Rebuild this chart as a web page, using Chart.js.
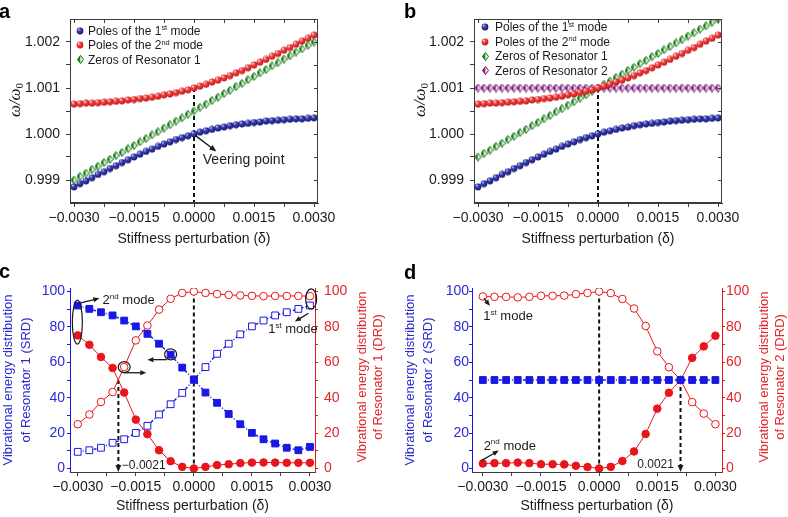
<!DOCTYPE html>
<html>
<head>
<meta charset="utf-8">
<script src="https://cdn.jsdelivr.net/npm/chart.js@4.4.1/dist/chart.umd.min.js"></script>
<style>
  body { margin: 0; background: #fff; }
  #page { position: relative; width: 788px; height: 517px; overflow: hidden; }
  canvas { position: absolute; }
  .tag { position: absolute; font: bold 20px "Liberation Sans", Arial, sans-serif; line-height: 20px; color: #000; }
</style>
</head>
<body>
<div id="page">
  <canvas id="chartA" width="394" height="258" style="left:0;top:0"></canvas>
  <canvas id="chartB" width="394" height="258" style="left:394px;top:0"></canvas>
  <canvas id="chartC" width="394" height="259" style="left:0;top:258px"></canvas>
  <canvas id="chartD" width="394" height="259" style="left:394px;top:258px"></canvas>
  <div class="tag" style="left:-1px;top:1px">a</div>
  <div class="tag" style="left:404px;top:1px">b</div>
  <div class="tag" style="left:-1px;top:261px">c</div>
  <div class="tag" style="left:404px;top:262px">d</div>
</div>
<script>
const FONT = '"Liberation Sans", Arial, sans-serif';
const INK = '#1b1b1b';
const FRAME = '#3c3c3c';
const BLUE = '#1818e4';
const BLUE_TXT = '#2b2bd4';
const RED = '#e8161c';
const RED_TXT = '#e2262b';

// ---------- data: panels a, b (frequency loci) ----------
const deltaFine = [-0.003, -0.00285, -0.0027, -0.00255, -0.0024, -0.00225, -0.0021, -0.00195, -0.0018, -0.00165,
  -0.0015, -0.00135, -0.0012, -0.00105, -0.0009, -0.00075, -0.0006, -0.00045, -0.0003, -0.00015, 0,
  0.00015, 0.0003, 0.00045, 0.0006, 0.00075, 0.0009, 0.00105, 0.0012, 0.00135, 0.0015,
  0.00165, 0.0018, 0.00195, 0.0021, 0.00225, 0.0024, 0.00255, 0.0027, 0.00285, 0.003];
const poles1st = [0.99885, 0.99892, 0.99898, 0.99905, 0.99912, 0.99918, 0.99925, 0.99931, 0.99938, 0.99944,
  0.99950, 0.99956, 0.99962, 0.99967, 0.99973, 0.99978, 0.99983, 0.99988, 0.99992, 0.99996, 1.00000,
  1.00004, 1.00007, 1.00010, 1.00013, 1.00015, 1.00018, 1.00020, 1.00022, 1.00023, 1.00025,
  1.00026, 1.00028, 1.00029, 1.00030, 1.00031, 1.00032, 1.00033, 1.00033, 1.00034, 1.00035];
const poles2nd = [1.00065, 1.00066, 1.00067, 1.00067, 1.00068, 1.00069, 1.00070, 1.00071, 1.00072, 1.00074,
  1.00075, 1.00077, 1.00078, 1.00080, 1.00082, 1.00085, 1.00087, 1.00090, 1.00093, 1.00096, 1.00100,
  1.00104, 1.00108, 1.00113, 1.00117, 1.00122, 1.00127, 1.00133, 1.00138, 1.00144, 1.00150,
  1.00156, 1.00162, 1.00169, 1.00175, 1.00182, 1.00188, 1.00195, 1.00202, 1.00208, 1.00215];
const zerosRes1A = [0.99900, 0.99908, 0.99915, 0.99923, 0.99930, 0.99938, 0.99945, 0.99953, 0.99960, 0.99968,
  0.99975, 0.99983, 0.99990, 0.99998, 1.00005, 1.00013, 1.00020, 1.00028, 1.00035, 1.00043, 1.00050,
  1.00058, 1.00065, 1.00073, 1.00080, 1.00088, 1.00095, 1.00103, 1.00110, 1.00118, 1.00125,
  1.00133, 1.00140, 1.00148, 1.00155, 1.00163, 1.00170, 1.00178, 1.00185, 1.00193, 1.00200];
const zerosRes1B = [0.99950, 0.99958, 0.99965, 0.99973, 0.99980, 0.99988, 0.99995, 1.00003, 1.00010, 1.00018,
  1.00025, 1.00033, 1.00040, 1.00048, 1.00055, 1.00063, 1.00070, 1.00078, 1.00085, 1.00093, 1.00100,
  1.00108, 1.00115, 1.00123, 1.00130, 1.00138, 1.00145, 1.00153, 1.00160, 1.00168, 1.00175,
  1.00183, 1.00190, 1.00198, 1.00205, 1.00213, 1.00220, 1.00228, 1.00235, 1.00243, 1.00250];
const zerosRes2B = [1.001, 1.001, 1.001, 1.001, 1.001, 1.001, 1.001, 1.001, 1.001, 1.001,
  1.001, 1.001, 1.001, 1.001, 1.001, 1.001, 1.001, 1.001, 1.001, 1.001, 1.001,
  1.001, 1.001, 1.001, 1.001, 1.001, 1.001, 1.001, 1.001, 1.001, 1.001,
  1.001, 1.001, 1.001, 1.001, 1.001, 1.001, 1.001, 1.001, 1.001, 1.001];

// ---------- data: panels c, d (energy distribution, %) ----------
const deltaCoarse = [-0.003, -0.0027, -0.0024, -0.0021, -0.0018, -0.0015, -0.0012, -0.0009, -0.0006, -0.0003, 0,
  0.0003, 0.0006, 0.0009, 0.0012, 0.0015, 0.0018, 0.0021, 0.0024, 0.0027, 0.003];
const srdRes1Mode2 = [92.1, 90.2, 88.3, 86.5, 83.6, 80.3, 76.1, 70.5, 64.3, 57.0, 50.2, 42.9, 37.1, 30.8, 25.0, 20.1, 16.5, 14.1, 11.7, 10.3, 12.2];
const srdRes1Mode1 = [9.4, 10.3, 11.7, 14.5, 16.5, 20.1, 24.1, 30.5, 36.3, 42.7, 50.2, 57.3, 64.8, 70.5, 75.8, 80.3, 83.6, 86.5, 88.3, 90.2, 92.1];
const drdRes1Mode2 = [75.2, 69.9, 63.0, 56.8, 42.9, 27.6, 19.4, 10.3, 4.1, 0.9, 0, 0.9, 1.9, 2.4, 3.0, 3.3, 3.4, 3.3, 3.2, 3.2, 3.2];
const drdRes1Mode1 = [25.0, 30.5, 37.6, 43.2, 57.3, 72.4, 80.8, 89.8, 95.9, 99.2, 100, 99.2, 98.6, 98.1, 97.8, 97.6, 97.4, 97.5, 97.5, 97.5, 97.4];
const srdRes2 = [50, 50, 50, 50, 50, 50, 50, 50, 50, 50, 50, 50, 50, 50, 50, 50, 50, 50, 50, 50, 50];
const drdRes2Mode1 = [97.2, 97.0, 97.0, 96.7, 97.0, 97.6, 97.6, 97.7, 98.5, 99.2, 100, 99.1, 95.8, 90.4, 80.5, 66.2, 57.2, 50.0, 37.5, 31.0, 25.0];
const drdRes2Mode2 = [2.8, 3.0, 3.0, 3.3, 3.0, 2.4, 2.4, 2.3, 1.5, 0.8, 0, 0.9, 4.2, 9.6, 19.5, 33.8, 42.8, 50.0, 62.5, 69.0, 75.0];

// ---------- tick values ----------
const deltaMajor = [-0.003, -0.0015, 0, 0.0015, 0.003];
const deltaMinor = [-0.00225, -0.00075, 0.00075, 0.00225];
const freqMajor = [0.999, 1.000, 1.001, 1.002];
const freqMinor = [0.9995, 1.0005, 1.0015];
const shareMajor = [0, 20, 40, 60, 80, 100];
const shareMinor = [10, 30, 50, 70, 90];

Chart.defaults.font.family = FONT;
Chart.defaults.color = INK;

const pairs = (xs, ys) => xs.map((x, i) => ({ x, y: ys[i] }));
const tickList = (major, minor) => major.concat(minor).sort((p, q) => p - q).map(v => ({ value: v }));
const fmtDelta = v => (v < 0 ? '\u2212' : '') + Math.abs(v).toFixed(4);

// ---------- marker images ----------
function sphere(r, light, mid, dark) {
  const c = document.createElement('canvas');
  c.width = c.height = Math.ceil(2 * r);
  const g = c.getContext('2d');
  const grad = g.createRadialGradient(r * 0.72, r * 0.62, 0.2, r, r, r);
  grad.addColorStop(0, light);
  grad.addColorStop(0.45, mid);
  grad.addColorStop(1, dark);
  g.fillStyle = grad;
  g.beginPath(); g.arc(c.width / 2, c.height / 2, r - 0.2, 0, Math.PI * 2); g.fill();
  return c;
}
function halfDiamond(w, h, dark, light, edge) {
  const c = document.createElement('canvas');
  c.width = w; c.height = h;
  const g = c.getContext('2d');
  g.fillStyle = dark;
  g.beginPath(); g.moveTo(w / 2, 0.5); g.lineTo(0.5, h / 2); g.lineTo(w / 2, h - 0.5); g.closePath(); g.fill();
  g.fillStyle = light;
  g.beginPath(); g.moveTo(w / 2, 0.5); g.lineTo(w - 0.5, h / 2); g.lineTo(w / 2, h - 0.5); g.closePath(); g.fill();
  g.strokeStyle = edge; g.lineWidth = 1;
  g.beginPath(); g.moveTo(w / 2, 0.5); g.lineTo(0.5, h / 2); g.lineTo(w / 2, h - 0.5); g.lineTo(w - 0.5, h / 2); g.closePath(); g.stroke();
  return c;
}
const blueBall = sphere(3.6, '#b4b8f4', '#3a3eb4', '#181a70');
const redBall = sphere(3.6, '#ffd6d0', '#f04444', '#c41a1a');
const greenDiamond = halfDiamond(7, 9, '#128412', '#e2f5dc', '#0f6a0f');
const purpleDiamond = halfDiamond(7, 9, '#861c86', '#f4dcf4', '#6c136c');

// ---------- drawing helpers ----------
function toPx(chart, x, y, yId) {
  return [chart.scales.x.getPixelForValue(x), chart.scales[yId || 'y'].getPixelForValue(y)];
}
function arrow(ctx, p, q, head) {
  head = head || 7;
  const a = Math.atan2(q[1] - p[1], q[0] - p[0]);
  const c = Math.cos(a), s = Math.sin(a);
  ctx.beginPath(); ctx.moveTo(p[0], p[1]); ctx.lineTo(q[0] - c * head * 0.7, q[1] - s * head * 0.7); ctx.stroke();
  ctx.beginPath();
  ctx.moveTo(q[0], q[1]);
  ctx.lineTo(q[0] - head * c + head * 0.42 * s, q[1] - head * s - head * 0.42 * c);
  ctx.lineTo(q[0] - head * c - head * 0.42 * s, q[1] - head * s + head * 0.42 * c);
  ctx.closePath(); ctx.fill();
}
function dashLine(ctx, p, q) {
  ctx.save();
  ctx.setLineDash([4, 3]); ctx.lineWidth = 2; ctx.strokeStyle = '#111';
  ctx.beginPath(); ctx.moveTo(p[0], p[1]); ctx.lineTo(q[0], q[1]); ctx.stroke();
  ctx.restore();
}
function ring(ctx, p, rx, ry) {
  ctx.beginPath(); ctx.ellipse(p[0], p[1], rx, ry, 0, 0, Math.PI * 2); ctx.stroke();
}
// parts: [text, 'sup' | undefined]; y is the vertical middle of the main text
function richText(ctx, parts, x, y, size) {
  let cx = x;
  ctx.textBaseline = 'alphabetic'; ctx.textAlign = 'left';
  parts.forEach(([t, kind]) => {
    const s = kind ? size * 0.62 : size;
    ctx.font = s + 'px ' + FONT;
    ctx.fillText(t, cx, y + size * 0.36 - (kind === 'sup' ? size * 0.4 : 0));
    cx += ctx.measureText(t).width;
  });
}
function drawLegend(ctx, items, mx, tx, y0, step) {
  ctx.fillStyle = INK;
  items.forEach((it, i) => {
    const y = y0 + i * step;
    ctx.drawImage(it.marker, Math.round(mx - it.marker.width / 2), Math.round(y - it.marker.height / 2));
    richText(ctx, it.label, tx, y, 12);
  });
}
function omegaTitle(ctx, cx, cy) {
  ctx.save();
  ctx.translate(cx, cy); ctx.rotate(-Math.PI / 2);
  ctx.fillStyle = INK; ctx.textBaseline = 'alphabetic';
  const big = 'italic 17px "Liberation Serif", serif', small = '11px "Liberation Serif", serif';
  ctx.font = big; const w1 = ctx.measureText('\u03c9/\u03c9').width;
  ctx.font = small; const w2 = ctx.measureText('0').width;
  const x = -(w1 + w2) / 2;
  ctx.font = big; ctx.fillText('\u03c9/\u03c9', x, 5);
  ctx.font = small; ctx.fillText('0', x + w1, 8);
  ctx.restore();
}
function sideTitle(ctx, lines, x0, step, cy, color) {
  ctx.save();
  ctx.translate(x0, cy); ctx.rotate(-Math.PI / 2);
  ctx.font = '13px ' + FONT; ctx.fillStyle = color;
  ctx.textAlign = 'center'; ctx.textBaseline = 'middle';
  lines.forEach((t, i) => ctx.fillText(t, 0, i * step));
  ctx.restore();
}

// frame with inward ticks on top and right (panels a, b)
const boxFrame = {
  id: 'boxFrame',
  afterDraw(chart) {
    const { ctx, chartArea: a, scales: { x, y } } = chart;
    ctx.save();
    ctx.strokeStyle = FRAME; ctx.lineWidth = 1;
    ctx.strokeRect(a.left + 0.5, a.top + 0.5, a.right - a.left - 1, a.bottom - a.top - 1);
    ctx.beginPath();
    x.ticks.forEach(t => {
      const p = Math.round(x.getPixelForValue(t.value)) + 0.5;
      ctx.moveTo(p, a.top); ctx.lineTo(p, a.top + 4);
    });
    y.ticks.forEach(t => {
      const p = Math.round(y.getPixelForValue(t.value)) + 0.5;
      ctx.moveTo(a.right, p); ctx.lineTo(a.right - 4, p);
    });
    ctx.stroke();
    ctx.restore();
  }
};
function panelDecor(spec) {
  return {
    id: 'decor',
    beforeDatasetsDraw(chart) {
      if (!spec.under) return;
      chart.ctx.save(); spec.under(chart, chart.ctx); chart.ctx.restore();
    },
    afterDraw(chart) {
      const ctx = chart.ctx;
      ctx.save();
      ctx.fillStyle = INK; ctx.strokeStyle = INK; ctx.lineWidth = 1.4;
      spec.over(chart, ctx);
      ctx.restore();
    }
  };
}

// ---------- axis builders ----------
function deltaAxis(min, max, height, titlePad) {
  return {
    type: 'linear', min, max,
    afterFit: s => { s.height = height; },
    afterBuildTicks: s => { s.ticks = tickList(deltaMajor, deltaMinor); },
    ticks: {
      callback: v => deltaMajor.includes(v) ? fmtDelta(v) : '',
      autoSkip: false, maxRotation: 0, font: { size: 14 }, color: INK, padding: 3
    },
    grid: { drawOnChartArea: false, tickLength: 4, tickColor: FRAME },
    border: { color: FRAME },
    title: { display: true, text: 'Stiffness perturbation (\u03b4)', font: { size: 14 }, color: INK, padding: { top: 0, bottom: titlePad } }
  };
}
function shareAxis(pos, width, color, textColor, pad, title, titlePad) {
  const axis = {
    type: 'linear', position: pos, min: -2, max: 102,
    afterFit: s => { s.width = width; },
    afterBuildTicks: s => { s.ticks = tickList(shareMajor, shareMinor); },
    ticks: { callback: v => shareMajor.includes(v) ? String(v) : '', autoSkip: false, font: { size: 14 }, color: textColor, padding: pad },
    grid: { drawOnChartArea: false, tickLength: 3, tickColor: color },
    border: { color }
  };
  if (title) {
    axis.title = { display: true, text: title, color: textColor, font: { size: 13, lineHeight: 1.35 }, padding: { top: titlePad, bottom: 0 } };
  }
  return axis;
}

// ---------- panels a, b ----------
function freqChart(id, datasets, areaLeft, padRight, decor) {
  return new Chart(document.getElementById(id), {
    type: 'scatter',
    data: { datasets },
    options: {
      responsive: false, animation: false, events: [],
      layout: { padding: { top: 19, right: padRight, left: 0, bottom: 0 } },
      plugins: { legend: { display: false }, tooltip: { enabled: false } },
      scales: {
        x: deltaAxis(-0.0031, 0.0031, 55, 10),
        y: {
          type: 'linear', min: 0.9985, max: 1.0025,
          afterFit: s => { s.width = areaLeft; },
          afterBuildTicks: s => { s.ticks = tickList(freqMajor, freqMinor); },
          ticks: { callback: v => freqMajor.includes(v) ? v.toFixed(3) : '', autoSkip: false, font: { size: 14 }, color: INK, padding: 6 },
          grid: { drawOnChartArea: false, tickLength: 4, tickColor: FRAME },
          border: { color: FRAME }
        }
      }
    },
    plugins: [boxFrame, panelDecor(decor)]
  });
}
const polesSets = [
  { label: 'Poles of the 1st mode', data: pairs(deltaFine, poles1st), pointStyle: blueBall },
  { label: 'Poles of the 2nd mode', data: pairs(deltaFine, poles2nd), pointStyle: redBall }
];
const legendPoles = [
  { marker: blueBall, label: [['Poles of the 1'], ['st', 'sup'], [' mode']] },
  { marker: redBall, label: [['Poles of the 2'], ['nd', 'sup'], [' mode']] },
  { marker: greenDiamond, label: [['Zeros of Resonator 1']] }
];

freqChart('chartA', polesSets.concat([
  { label: 'Zeros of Resonator 1', data: pairs(deltaFine, zerosRes1A), pointStyle: greenDiamond }
]), 70, 76, {
  under(chart, ctx) { dashLine(ctx, toPx(chart, 0, 1.001), toPx(chart, 0, 0.9985)); },
  over(chart, ctx) {
    arrow(ctx, toPx(chart, 0.00003, 0.99997), toPx(chart, 0.00056, 0.99962), 7);
    const t = toPx(chart, 0.00022, 0.99944);
    ctx.font = '14px ' + FONT; ctx.textBaseline = 'middle';
    ctx.fillText('Veering point', t[0], t[1]);
    drawLegend(ctx, legendPoles, 80, 88, 30.5, 14.6);
    omegaTitle(ctx, 15, 100);
  }
});

freqChart('chartB', polesSets.concat([
  { label: 'Zeros of Resonator 1', data: pairs(deltaFine, zerosRes1B), pointStyle: greenDiamond },
  { label: 'Zeros of Resonator 2', data: pairs(deltaFine, zerosRes2B), pointStyle: purpleDiamond }
]), 80, 66, {
  under(chart, ctx) { dashLine(ctx, toPx(chart, 0, 1.001), toPx(chart, 0, 0.9985)); },
  over(chart, ctx) {
    drawLegend(ctx, legendPoles.concat([{ marker: purpleDiamond, label: [['Zeros of Resonator 2']] }]), 91, 101, 27, 14.5);
    omegaTitle(ctx, 26, 100);
  }
});

// ---------- panels c, d ----------
function blueSeries(label, values, filled) {
  return {
    label, data: pairs(deltaCoarse, values), yAxisID: 'y', showLine: true,
    borderColor: BLUE, borderWidth: 1.4, borderDash: [3, 2, 1, 2],
    pointStyle: 'rect', pointRadius: 4.8,
    pointBackgroundColor: filled ? BLUE : '#fff', pointBorderColor: BLUE, pointBorderWidth: 1
  };
}
function redSeries(label, values, filled) {
  return {
    label, data: pairs(deltaCoarse, values), yAxisID: 'y2', showLine: true,
    borderColor: RED, borderWidth: 1,
    pointStyle: 'circle', pointRadius: 3.8,
    pointBackgroundColor: filled ? RED : '#fff', pointBorderColor: RED, pointBorderWidth: 1
  };
}
function shareChart(id, datasets, x, leftW, rightW, leftPad, rightPad, res, titlePad, decor) {
  return new Chart(document.getElementById(id), {
    type: 'scatter',
    data: { datasets },
    options: {
      responsive: false, animation: false, events: [],
      layout: { padding: { top: 30, right: 0, left: 0, bottom: 0 } },
      plugins: { legend: { display: false }, tooltip: { enabled: false } },
      scales: {
        x: deltaAxis(x[0], x[1], 45, 2),
        y: shareAxis('left', leftW, BLUE, BLUE_TXT, leftPad,
          ['Vibrational energy distribution', 'of Resonator ' + res + ' (SRD)'], titlePad),
        y2: shareAxis('right', rightW, RED, RED_TXT, rightPad)
      }
    },
    plugins: [panelDecor(decor)]
  });
}

shareChart('chartC', [
  blueSeries('SRD, 2nd mode', srdRes1Mode2, true),
  redSeries('DRD, 2nd mode', drdRes1Mode2, true),
  blueSeries('SRD, 1st mode', srdRes1Mode1, false),
  redSeries('DRD, 1st mode', drdRes1Mode1, false)
], [-0.0032, 0.00313], 70, 79, 2, 6, 1, 0, {
  under(chart, ctx) {
    dashLine(ctx, toPx(chart, 0, 100), toPx(chart, 0, -2));
    dashLine(ctx, toPx(chart, -0.00195, 50), toPx(chart, -0.00195, 1));
  },
  over(chart, ctx) {
    arrow(ctx, toPx(chart, -0.00195, 2), toPx(chart, -0.00195, -2), 7);
    ctx.font = '12px ' + FONT; ctx.textBaseline = 'middle';
    const t = toPx(chart, -0.00186, 1.6);
    ctx.fillText('\u22120.0021', t[0], t[1]);
    ctx.lineWidth = 1.2;
    ring(ctx, toPx(chart, -0.00301, 82.7), 5, 22);
    ring(ctx, toPx(chart, 0.00303, 95.8), 5.5, 10);
    ring(ctx, toPx(chart, -0.0006, 64.5), 6, 5.5);
    ring(ctx, toPx(chart, -0.0018, 57.3), 6, 5.5);
    ctx.lineWidth = 1.3;
    arrow(ctx, toPx(chart, -0.0029, 93.7), toPx(chart, -0.00244, 96.2), 6);
    arrow(ctx, toPx(chart, 0.00296, 87.7), toPx(chart, 0.00261, 83), 6);
    arrow(ctx, toPx(chart, -0.0007, 61.5), toPx(chart, -0.0012, 61.5), 6);
    arrow(ctx, toPx(chart, -0.00182, 54.1), toPx(chart, -0.00123, 54.1), 6);
    let p = toPx(chart, -0.00236, 95.6);
    richText(ctx, [['2'], ['nd', 'sup'], [' mode']], p[0], p[1], 13);
    p = toPx(chart, 0.00192, 79.3);
    richText(ctx, [['1'], ['st', 'sup'], [' mode']], p[0], p[1], 13);
    sideTitle(ctx, ['Vibrational energy distribution', 'of Resonator 1 (DRD)'], 362, 16.5, 119, RED_TXT);
  }
});

shareChart('chartD', [
  blueSeries('SRD', srdRes2, true),
  redSeries('DRD, 2nd mode', drdRes2Mode2, true),
  redSeries('DRD, 1st mode', drdRes2Mode1, false)
], [-0.00328, 0.00317], 78, 66, 0, 1, 2, 8, {
  under(chart, ctx) {
    dashLine(ctx, toPx(chart, 0, 100), toPx(chart, 0, -2));
    dashLine(ctx, toPx(chart, 0.0021, 50), toPx(chart, 0.0021, 1));
  },
  over(chart, ctx) {
    arrow(ctx, toPx(chart, 0.0021, 2), toPx(chart, 0.0021, -2), 7);
    ctx.font = '12px ' + FONT; ctx.textBaseline = 'middle'; ctx.textAlign = 'right';
    const t = toPx(chart, 0.00193, 2.4);
    ctx.fillText('0.0021', t[0], t[1]);
    ctx.textAlign = 'left';
    ctx.lineWidth = 1.3;
    arrow(ctx, toPx(chart, -0.00297, 96.2), toPx(chart, -0.00282, 91.9), 6);
    arrow(ctx, toPx(chart, -0.00304, 4.4), toPx(chart, -0.00259, 10.1), 6);
    let p = toPx(chart, -0.00299, 86.3);
    richText(ctx, [['1'], ['st', 'sup'], [' mode']], p[0], p[1], 13);
    p = toPx(chart, -0.00298, 13.3);
    richText(ctx, [['2'], ['nd', 'sup'], [' mode']], p[0], p[1], 13);
    sideTitle(ctx, ['Vibrational energy distribution', 'of Resonator 2 (DRD)'], 370, 16.5, 119, RED_TXT);
  }
});
</script>
</body>
</html>
